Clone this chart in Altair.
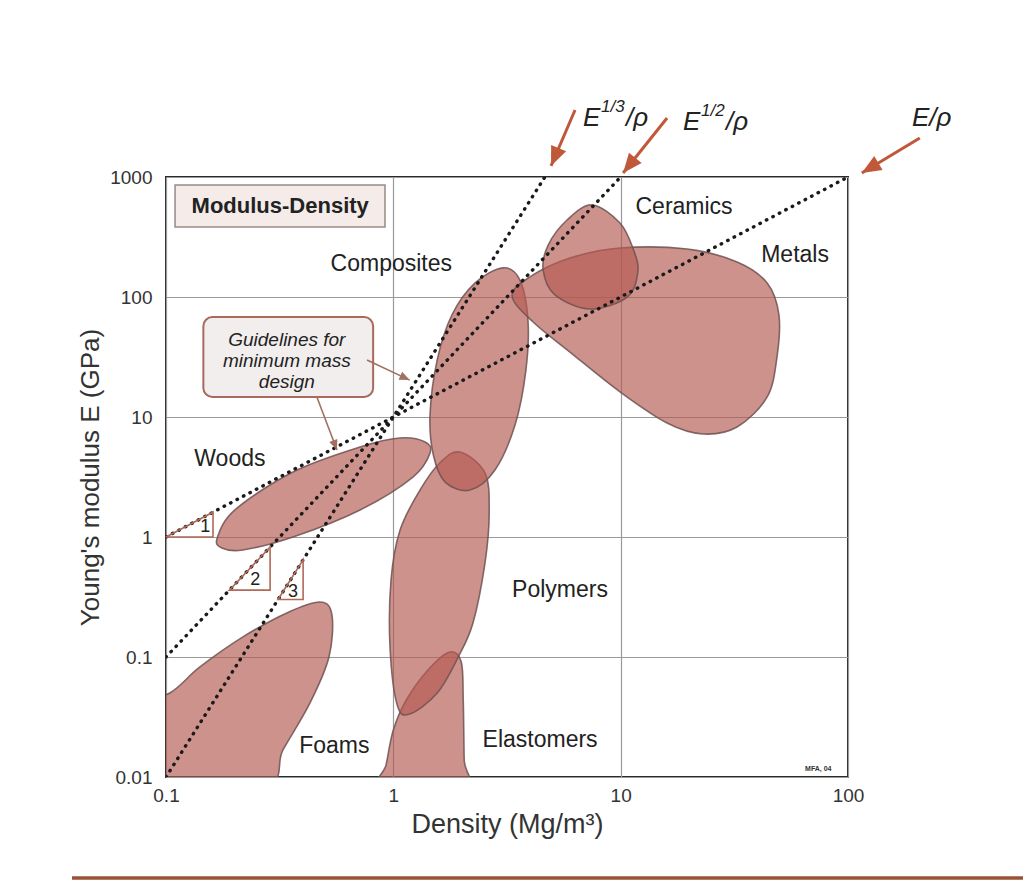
import altair as alt
import pandas as pd

# ---------------- data ----------------
# material bubbles (outline vertices, density Mg/m3, modulus GPa)
woods_x = [0.168, 0.201, 0.362, 0.714, 1.07, 1.38, 1.45, 1.22, 0.714, 0.362, 0.218, 0.176]
woods_y = [0.98, 1.68, 3.48, 5.62, 6.68, 6.19, 5.01, 3.16, 1.68, 1.0, 0.78, 0.81]

ceramics_x = [7.48, 9.93, 11.4, 11.9, 10.7, 7.33, 5.14, 4.56, 4.8, 5.81]
ceramics_y = [585, 414, 246, 162, 100, 79.4, 104, 168, 271, 438]

metals_x = [3.33, 3.99, 5.98, 9.93, 19.6, 32.5, 44.1, 49.7, 48.7, 44.1, 32.5, 23.0, 16.0, 9.93, 5.98, 4.12]
metals_y = [102, 147, 211, 256, 251, 196, 131, 70.8, 31.6, 14.7, 8.25, 7.22, 8.91, 16.2, 34.8, 61.9]

composites_x = [3.04, 3.60, 3.91, 3.83, 3.43, 2.80, 2.17, 1.69, 1.50, 1.45, 1.56, 1.81, 2.29]
composites_y = [175, 139, 64.3, 24.6, 8.58, 3.62, 2.46, 2.87, 4.82, 10.4, 29.9, 70.8, 131]

polymers_x = [1.96, 2.53, 2.64, 2.53, 2.24, 1.93, 1.56, 1.18, 1.04, 0.967, 0.977, 1.07, 1.31, 1.60]
polymers_y = [5.1, 3.42, 1.58, 0.607, 0.192, 0.1, 0.0501, 0.0335, 0.0398, 0.121, 0.438, 1.14, 2.46, 4.14]

elastomers_x = [1.77, 1.99, 2.03, 2.05, 2.08, 0.873, 0.929, 1.0, 1.14, 1.42]
elastomers_y = [0.110, 0.0908, 0.0438, 0.0139, 0.0078, 0.0078, 0.0126, 0.0246, 0.0438, 0.078]

foams_x = [0.476, 0.537, 0.521, 0.43, 0.327, 0.264, 0.0695, 0.0695, 0.104, 0.141, 0.218, 0.34]
foams_y = [0.287, 0.224, 0.1, 0.0414, 0.0168, 0.0078, 0.00643, 0.0362, 0.0501, 0.0826, 0.147, 0.233]

# material labels
label_text = ["Ceramics", "Metals", "Composites", "Woods", "Polymers", "Foams", "Elastomers"]
label_x = [19.0, 58.5, 0.98, 0.191, 5.41, 0.55, 4.42]
label_y = [562, 224, 188, 4.47, 0.362, 0.0181, 0.0203]

# design guidelines (dotted): E/rho, E^1/2/rho, E^1/3/rho
guide_name = ["E/rho", "E/rho", "E12/rho", "E12/rho", "E13/rho", "E13/rho"]
guide_x = [0.1, 100, 0.1, 10, 0.1, 4.64]
guide_y = [1, 1000, 0.1, 1000, 0.01, 1000]

# slope triangles 1, 2, 3
tri_name = ["1", "1", "1", "2", "2", "2", "3", "3", "3"]
tri_x = [0.1, 0.161, 0.161, 0.19, 0.287, 0.287, 0.311, 0.401, 0.401]
tri_y = [1, 1, 1.61, 0.361, 0.361, 0.824, 0.301, 0.301, 0.645]
tri_label = ["1", "2", "3"]
tri_label_x = [0.149, 0.247, 0.362]
tri_label_y = [1.21, 0.438, 0.348]

# arrows pointing at the guideline ends (above the frame)
arrow_tail_x = [6.3, 16.0, 207]
arrow_tail_y = [3617, 3100, 2113]
arrow_tip_x = [4.94, 10.25, 115]
arrow_tip_y = [1236, 1080, 1080]
arrow_angle = [203, 219, 239]
arrow_label_x = [6.83, 18.8]
arrow_label_y = [3100, 2873]
arrow_sup = ["1/3", "1/2"]
arrow3_label_x = [191]
arrow3_label_y = [3100]

# "Guidelines for minimum mass design" callout
note_lines = ["Guidelines for", "minimum mass", "design"]
note_x = [0.34, 0.34, 0.34]
note_y = [43.8, 29.3, 19.6]
note_box = {"x": [0.146], "x2": [0.815], "y": [68], "y2": [14.7]}
call_tail_x = [0.766, 0.461]
call_tail_y = [29.9, 14.7]
call_tip_x = [1.18, 0.565]
call_tip_y = [20.3, 5.31]
call_angle = [115, 159]

# title box
title_box = {"x": [0.1096], "x2": [0.919], "y": [858], "y2": [383]}
title_text = ["Modulus-Density"]
title_x = [0.318]
title_y = [573]

credit_text = ["MFA, 04"]
credit_x = [74]
credit_y = [0.0116]

# ---------------- tables ----------------
shapes = [
    ("Foams", foams_x, foams_y),
    ("Elastomers", elastomers_x, elastomers_y),
    ("Polymers", polymers_x, polymers_y),
    ("Woods", woods_x, woods_y),
    ("Composites", composites_x, composites_y),
    ("Metals", metals_x, metals_y),
    ("Ceramics", ceramics_x, ceramics_y),
]
rows = []
for name, xs, ys in shapes:
    for i, (a, b) in enumerate(zip(xs, ys)):
        rows.append({"shape": name, "i": i, "x": a, "y": b})
bub = pd.DataFrame(rows)

labels = pd.DataFrame({"t": label_text, "x": label_x, "y": label_y})
guides = pd.DataFrame({"g": guide_name, "x": guide_x, "y": guide_y, "i": [0, 1] * 3})
tris = pd.DataFrame({"g": tri_name, "x": tri_x, "y": tri_y, "i": [0, 1, 2] * 3})
tri_lab = pd.DataFrame({"t": tri_label, "x": tri_label_x, "y": tri_label_y})
arrows = pd.DataFrame({"x": arrow_tail_x, "y": arrow_tail_y, "x2": arrow_tip_x, "y2": arrow_tip_y})
heads = pd.DataFrame({"x": arrow_tip_x, "y": arrow_tip_y, "a": arrow_angle})
alab = pd.DataFrame({"x": arrow_label_x, "y": arrow_label_y, "s": arrow_sup})
alab3 = pd.DataFrame({"x": arrow3_label_x, "y": arrow3_label_y})
notes = pd.DataFrame({"t": note_lines, "x": note_x, "y": note_y})
nbox = pd.DataFrame(note_box)
calls = pd.DataFrame({"x": call_tail_x, "y": call_tail_y, "x2": call_tip_x, "y2": call_tip_y})
cheads = pd.DataFrame({"x": call_tip_x, "y": call_tip_y, "a": call_angle})
tbox = pd.DataFrame(title_box)
ttext = pd.DataFrame({"t": title_text, "x": title_x, "y": title_y})
credit = pd.DataFrame({"t": credit_text, "x": credit_x, "y": credit_y})

# ---------------- encodings ----------------
XS = alt.Scale(type="log", domain=[0.1, 100])
YS = alt.Scale(type="log", domain=[0.01, 1000])
X = alt.X("x:Q", scale=XS, axis=alt.Axis(
    values=[0.1, 1, 10, 100], format="~g", title="Density  (Mg/m³)",
    grid=True, gridColor="#9a9a9a", gridWidth=1.2, ticks=False, domain=False,
    labelFontSize=19, labelColor="#333333", labelPadding=9, labelFlush=False,
    labelOverlap=False, titleFontSize=27, titleFontWeight="normal",
    titleColor="#333333", titlePadding=6))
Y = alt.Y("y:Q", scale=YS, axis=alt.Axis(
    values=[0.01, 0.1, 1, 10, 100, 1000], format="~g", title="Young's modulus E  (GPa)",
    grid=True, gridColor="#9a9a9a", gridWidth=1.2, ticks=False, domain=False,
    labelFontSize=19, labelColor="#333333", labelPadding=14, labelFlush=False,
    labelOverlap=False, titleFontSize=26, titleFontWeight="normal",
    titleColor="#333333", titlePadding=6))

ARROW = "M0,0L-0.42,1L0.42,1Z"
BROWN = "#c0583a"

bubbles = alt.Chart(bub).mark_line(
    interpolate="cardinal-closed", fill="#b45a50", fillOpacity=0.66,
    stroke="#6e5252", strokeWidth=1.6, strokeOpacity=0.85, clip=True
).encode(x=X, y=Y, detail="shape:N", order="i:Q")

guide_lines = alt.Chart(guides).mark_line(
    stroke="#1a1a1a", strokeWidth=3.4, strokeDash=[0.5, 6.8], strokeCap="round", clip=True
).encode(x=X, y=Y, detail="g:N", order="i:Q")

triangles = alt.Chart(tris).mark_line(
    interpolate="linear-closed", stroke="#b06a58", strokeWidth=1.6
).encode(x=X, y=Y, detail="g:N", order="i:Q")

tri_text = alt.Chart(tri_lab).mark_text(fontSize=18, color="#222222").encode(x=X, y=Y, text="t:N")

mat_text = alt.Chart(labels).mark_text(fontSize=23, color="#222222").encode(x=X, y=Y, text="t:N")

title_rect = alt.Chart(tbox).mark_rect(
    fill="#f5ebe9", stroke="#9a8a88", strokeWidth=1.5
).encode(x=X, x2="x2:Q", y=Y, y2="y2:Q")
title_t = alt.Chart(ttext).mark_text(fontSize=22, fontWeight="bold", color="#222222").encode(
    x=X, y=Y, text="t:N")

note_rect = alt.Chart(nbox).mark_rect(
    fill="#f2eeee", stroke="#a86a5c", strokeWidth=2, cornerRadius=9
).encode(x=X, x2="x2:Q", y=Y, y2="y2:Q")
note_t = alt.Chart(notes).mark_text(fontSize=19, fontStyle="italic", color="#222222").encode(
    x=X, y=Y, text="t:N")
call_lines = alt.Chart(calls).mark_rule(color="#a07060", strokeWidth=1.6).encode(
    x=X, y=Y, x2="x2:Q", y2="y2:Q")
call_heads = alt.Chart(cheads).mark_point(
    shape=ARROW, filled=True, size=420, color="#a07060", opacity=1
).encode(x=X, y=Y, angle=alt.Angle("a:Q", scale=None))

arrow_lines = alt.Chart(arrows).mark_rule(color=BROWN, strokeWidth=3).encode(
    x=X, y=Y, x2="x2:Q", y2="y2:Q")
arrow_heads = alt.Chart(heads).mark_point(
    shape=ARROW, filled=True, size=1500, color=BROWN, opacity=1
).encode(x=X, y=Y, angle=alt.Angle("a:Q", scale=None))

lab_E = alt.Chart(alab).mark_text(
    fontSize=26, fontStyle="italic", align="left", baseline="middle", color="#222222"
).encode(x=X, y=Y, text=alt.value("E"))
lab_sup = alt.Chart(alab).mark_text(
    fontSize=17, fontStyle="italic", align="left", baseline="middle", dx=18, dy=-11, color="#222222"
).encode(x=X, y=Y, text="s:N")
lab_rho = alt.Chart(alab).mark_text(
    fontSize=26, fontStyle="italic", align="left", baseline="middle", dx=43, color="#222222"
).encode(x=X, y=Y, text=alt.value("/ρ"))
lab3 = alt.Chart(alab3).mark_text(
    fontSize=26, fontStyle="italic", align="left", baseline="middle", color="#222222"
).encode(x=X, y=Y, text=alt.value("E/ρ"))

credit_t = alt.Chart(credit).mark_text(fontSize=7, fontWeight="bold", color="#333333").encode(
    x=X, y=Y, text="t:N")

bottom_rule = alt.Chart(pd.DataFrame({"k": [0]})).mark_rule(
    color="#9a5236", strokeWidth=3.5
).encode(x=alt.value(-94), x2=alt.value(857), y=alt.value(701))

chart = alt.layer(
    bubbles, guide_lines, triangles, tri_text, mat_text,
    title_rect, title_t, note_rect, note_t, call_lines, call_heads,
    arrow_lines, arrow_heads, lab_E, lab_sup, lab_rho, lab3, credit_t, bottom_rule
).properties(
    width=682, height=600,
    autosize=alt.AutoSizeParams(type="none"),
    padding={"left": 158, "top": 169, "right": 175, "bottom": 105},
    background="white",
).configure(font="Liberation Sans").configure_view(stroke="#2a2a2a", strokeWidth=2)

chart.save("out.html", embed_options={"renderer": "svg", "actions": False})
